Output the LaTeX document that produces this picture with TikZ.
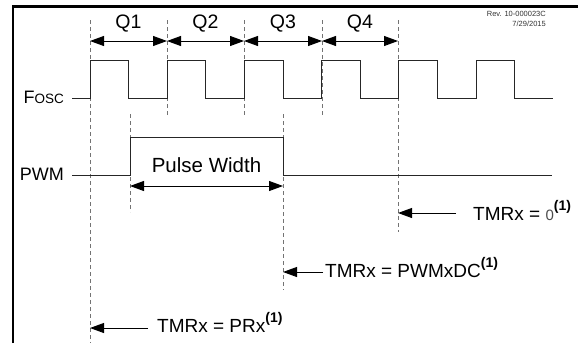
\documentclass[tikz,border=0pt]{standalone}
\usepackage{fontspec}
\setmainfont{Liberation Sans}
\usetikzlibrary{arrows.meta}

\tikzset{
  wave/.style={line width=0.9pt, black!85},
  marker/.style={line width=0.9pt, black!55, dash pattern=on 4pt off 3pt},
  span/.style={line width=0.9pt, {Triangle[length=14pt,width=10pt]}-{Triangle[length=14pt,width=10pt]}},
  pointer/.style={line width=0.9pt, -{Triangle[length=14pt,width=10pt]}},
  qlabel/.style={font=\fontsize{19.5}{19.5}\selectfont, inner sep=0pt, anchor=base},
  siglabel/.style={font=\fontsize{18}{18}\selectfont, inner sep=0pt, anchor=base east},
  note/.style={font=\fontsize{19}{19}\selectfont, inner sep=0pt, anchor=base west},
}
\newcommand{\noteone}{\raisebox{10pt}{\fontsize{14}{14}\selectfont\bfseries (1)}}

\begin{document}
\begin{tikzpicture}[x=1pt,y=-1pt]
  \useasboundingbox (0,0) rectangle (578,343);

  % Frame
  \draw[line width=2.5pt] (13,343) -- (13,6.5) -- (578,6.5);

  \foreach \n/\x in {0/90,1/167,2/244,3/322,4/398}
    \coordinate (t\n) at (\x,20);
  \coordinate (rise) at (130,114);
  \coordinate (fall) at (283,114);

  % Markers
  \draw[marker] (t0) -- (t0 |- 0,343);
  \draw[marker] (t1) -- (t1 |- 0,117);
  \draw[marker] (t2) -- (t2 |- 0,117);
  \draw[marker] (t3) -- (t3 |- 0,117);
  \draw[marker] (t4) -- (t4 |- 0,232);
  \draw[marker] (rise) -- (rise |- 0,212);
  \draw[marker] (fall) -- (fall |- 0,290);

  % Q cycles
  \foreach \a/\b/\q in {0/1/Q1,1/2/Q2,2/3/Q3,3/4/Q4}
    \draw[span] (t\a |- 0,41) -- node[qlabel, yshift=13pt] (lbl\q) {\q} (t\b |- 0,41);

  % Signals
  \node[siglabel] (fosc) at (64,103) {F{\fontsize{13.5}{13.5}\selectfont OSC}};
  \node[siglabel] (pwm) at (64,180) {PWM};

  \coordinate (fstart) at (72,98);
  \draw[wave] (fstart) -- (t0 |- fstart)
    \foreach \i in {1,...,6} { -- ++(0,-38) -- ++(38.6,0) -- ++(0,38) -- ++(38.6,0) };

  \coordinate (pstart) at (72,175);
  \coordinate (pend) at (552,175);
  \draw[wave] (pstart) -- (rise |- pstart) -- (rise |- 0,137) -- (fall |- 0,137)
    -- (fall |- pstart) -- (pend);

  % Pulse width
  \coordinate (pw1) at (rise |- 0,186);
  \coordinate (pw2) at (fall |- 0,186);
  \draw[span] (pw1) -- (pw2);
  \node[font=\fontsize{20.5}{20.5}\selectfont, inner sep=0pt, anchor=base] (pwlbl)
    at (206.5,172.5) {Pulse Width};

  % Timer events
  \node[note] (zeronote) at (473,220)
    {TMRx = {\fontsize{15}{15}\selectfont\color{black!70}0}\noteone};
  \coordinate (zerotail) at (456,213);
  \draw[pointer] (zerotail) -- (t4 |- zerotail);

  \node[note] (dcnote) at (325,277) {TMRx = PWMxDC\noteone};
  \coordinate (dctail) at (323,272);
  \draw[pointer] (dctail) -- (fall |- dctail);

  \node[note] (prnote) at (157,332) {TMRx = PRx\noteone};
  \coordinate (prtail) at (148,328);
  \draw[pointer] (prtail) -- (t0 |- prtail);

  % Revision
  \node[anchor=north east, align=right, inner sep=0pt, text=black!80,
    font=\fontsize{7.5}{10}\selectfont] (rev) at (546,11.5) {Rev. 10-000023C\\7/29/2015};
\end{tikzpicture}
\end{document}
